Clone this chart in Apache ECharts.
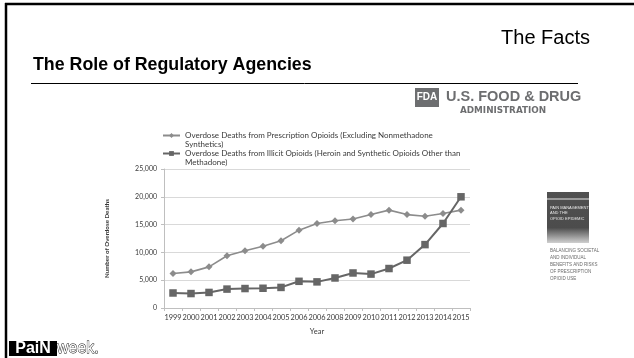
<!DOCTYPE html>
<html>
<head>
<meta charset="utf-8">
<script src="https://cdn.jsdelivr.net/npm/echarts@6/dist/echarts.min.js"></script>
<style>
  html, body { margin: 0; padding: 0; background: #ffffff; }
  #chart { width: 634px; height: 358px; }
</style>
</head>
<body>
<div id="chart"></div>
<script>
// Year labels as printed on the axis
const years = ['1999', '2000', '2001', '2002', '2003', '2004', '2005', '2006', '2006',
  '2008', '2009', '2010', '2011', '2012', '2013', '2014', '2015'];

// Overdose deaths per year
const prescriptionDeaths = [6200, 6500, 7400, 9400, 10300, 11100, 12100, 14000, 15200,
  15700, 16000, 16800, 17600, 16800, 16500, 17000, 17600];
const illicitDeaths = [2700, 2600, 2800, 3400, 3500, 3550, 3700, 4800, 4700,
  5400, 6300, 6100, 7100, 8600, 11400, 15200, 20000];

const seriesNames = [
  'Overdose Deaths from Prescription Opioids (Excluding Nonmethadone\nSynthetics)',
  'Overdose Deaths from Illicit Opioids (Heroin and Synthetic Opioids Other than\nMethadone)'
];

// Value axis range and step
const yMin = 0;
const yMax = 25000;
const yStep = 5000;

const chartFont = 'Lato';
const slideFont = '"Liberation Sans", Arial, sans-serif';

const chart = echarts.init(document.getElementById('chart'), null, { renderer: 'canvas' });

const option = {
  backgroundColor: '#ffffff',
  animation: false,
  grid: { left: 164, right: 164, top: 169, bottom: 50, containLabel: false },
  legend: {
    orient: 'vertical',
    left: 162,
    top: 122,
    padding: 0,
    itemWidth: 17,
    itemHeight: 6,
    itemGap: -9,
    // a leading blank line keeps each marker level with the first line of its label
    formatter: name => '\n' + name,
    textStyle: { fontFamily: chartFont, fontSize: 8, color: '#3a3a3a', lineHeight: 9 },
    data: seriesNames
  },
  xAxis: {
    type: 'category',
    data: years,
    boundaryGap: true,
    name: 'Year',
    nameLocation: 'middle',
    nameGap: 20,
    nameTextStyle: { fontFamily: chartFont, fontSize: 7.5, color: '#3a3a3a' },
    axisLine: { lineStyle: { color: '#bfbfbf', width: 1 } },
    axisTick: { show: true, length: 3, lineStyle: { color: '#bfbfbf' } },
    axisLabel: { fontFamily: chartFont, fontSize: 7.4, color: '#3a3a3a', margin: 6, interval: 0 }
  },
  yAxis: {
    type: 'value',
    min: yMin,
    max: yMax,
    interval: yStep,
    name: 'Number of Overdose Deaths',
    nameLocation: 'middle',
    nameGap: 54,
    nameRotate: 90,
    nameTextStyle: { fontFamily: chartFont, fontSize: 6.2, fontWeight: 'bold', color: '#3a3a3a' },
    axisLine: { show: true, lineStyle: { color: '#bfbfbf', width: 1 } },
    axisTick: { show: true, length: 3, lineStyle: { color: '#bfbfbf' } },
    axisLabel: {
      fontFamily: chartFont, fontSize: 7, color: '#3a3a3a', margin: 7,
      formatter: v => v.toLocaleString('en-US')
    },
    splitLine: { lineStyle: { color: '#d9d9d9', width: 1 } }
  },
  series: [
    {
      name: seriesNames[0],
      type: 'line',
      data: prescriptionDeaths,
      symbol: 'diamond',
      symbolSize: 7,
      lineStyle: { color: '#8c8c8c', width: 1.6 },
      itemStyle: { color: '#8c8c8c' }
    },
    {
      name: seriesNames[1],
      type: 'line',
      data: illicitDeaths,
      symbol: 'rect',
      symbolSize: 7.5,
      lineStyle: { color: '#666666', width: 2 },
      itemStyle: { color: '#666666' }
    }
  ],
  graphic: [
    // slide frame
    { type: 'line', shape: { x1: 5, y1: 4, x2: 634, y2: 4 }, style: { stroke: '#000', lineWidth: 2.5 } },
    { type: 'line', shape: { x1: 6, y1: 3, x2: 6, y2: 358 }, style: { stroke: '#000', lineWidth: 2.5 } },
    // headings
    { type: 'text', x: 590, y: 38, style: { text: 'The Facts', font: '20px ' + slideFont, fill: '#000', align: 'right', verticalAlign: 'middle' } },
    { type: 'text', x: 33, y: 65, style: { text: 'The Role of Regulatory Agencies', font: 'bold 17.8px ' + slideFont, fill: '#000', verticalAlign: 'middle' } },
    { type: 'line', shape: { x1: 31, y1: 83.5, x2: 578, y2: 83.5 }, style: { stroke: '#000', lineWidth: 1 } },
    // agency logo
    { type: 'rect', shape: { x: 415, y: 88, width: 24, height: 19 }, style: { fill: '#6d6e70' } },
    { type: 'text', x: 427, y: 97.5, style: { text: 'FDA', font: 'bold 10px "Liberation Sans Narrow", ' + slideFont, fill: '#fff', align: 'center', verticalAlign: 'middle' } },
    { type: 'text', left: 446, top: 89, style: { text: 'U.S. FOOD & DRUG', font: 'bold 14.5px ' + slideFont, fill: '#6d6e70' } },
    { type: 'text', x: 460, y: 111, style: { text: 'ADMINISTRATION', font: 'bold 8.8px "DejaVu Sans", sans-serif', fill: '#6d6e70', verticalAlign: 'middle' } },
    // report cover
    {
      type: 'rect', shape: { x: 547, y: 192, width: 42, height: 51 },
      style: {
        fill: new echarts.graphic.LinearGradient(0, 0, 0, 1, [
          { offset: 0, color: '#505050' }, { offset: 0.7, color: '#4c4c4c' }, { offset: 1, color: '#d0d0d0' }
        ])
      }
    },
    { type: 'rect', shape: { x: 547, y: 198, width: 42, height: 2 }, style: { fill: '#9a9a9a' } },
    { type: 'text', left: 550, top: 205, style: { text: 'PAIN MANAGEMENT\nAND THE\nOPIOID EPIDEMIC', font: '4px "Liberation Sans Narrow", sans-serif', lineHeight: 5.5, fill: '#e8e8e8' } },
    { type: 'text', left: 550, top: 247, style: { text: 'BALANCING SOCIETAL\nAND INDIVIDUAL\nBENEFITS AND RISKS\nOF PRESCRIPTION\nOPIOID USE', font: '4.5px "Liberation Sans Narrow", sans-serif', lineHeight: 7, fill: '#6a6a6a' } },
    // footer logo
    { type: 'rect', shape: { x: 9, y: 341, width: 48, height: 15 }, style: { fill: '#000' } },
    { type: 'text', x: 33, y: 349, style: { text: 'PaiN', font: 'bold 16px ' + slideFont, fill: '#fff', align: 'center', verticalAlign: 'middle' } },
    { type: 'text', x: 57, y: 349, style: { text: 'week.', font: '16px ' + slideFont, fill: '#fff', stroke: '#000', lineWidth: 0.8, verticalAlign: 'middle' } }
  ]
};

chart.setOption(option);
</script>
</body>
</html>
